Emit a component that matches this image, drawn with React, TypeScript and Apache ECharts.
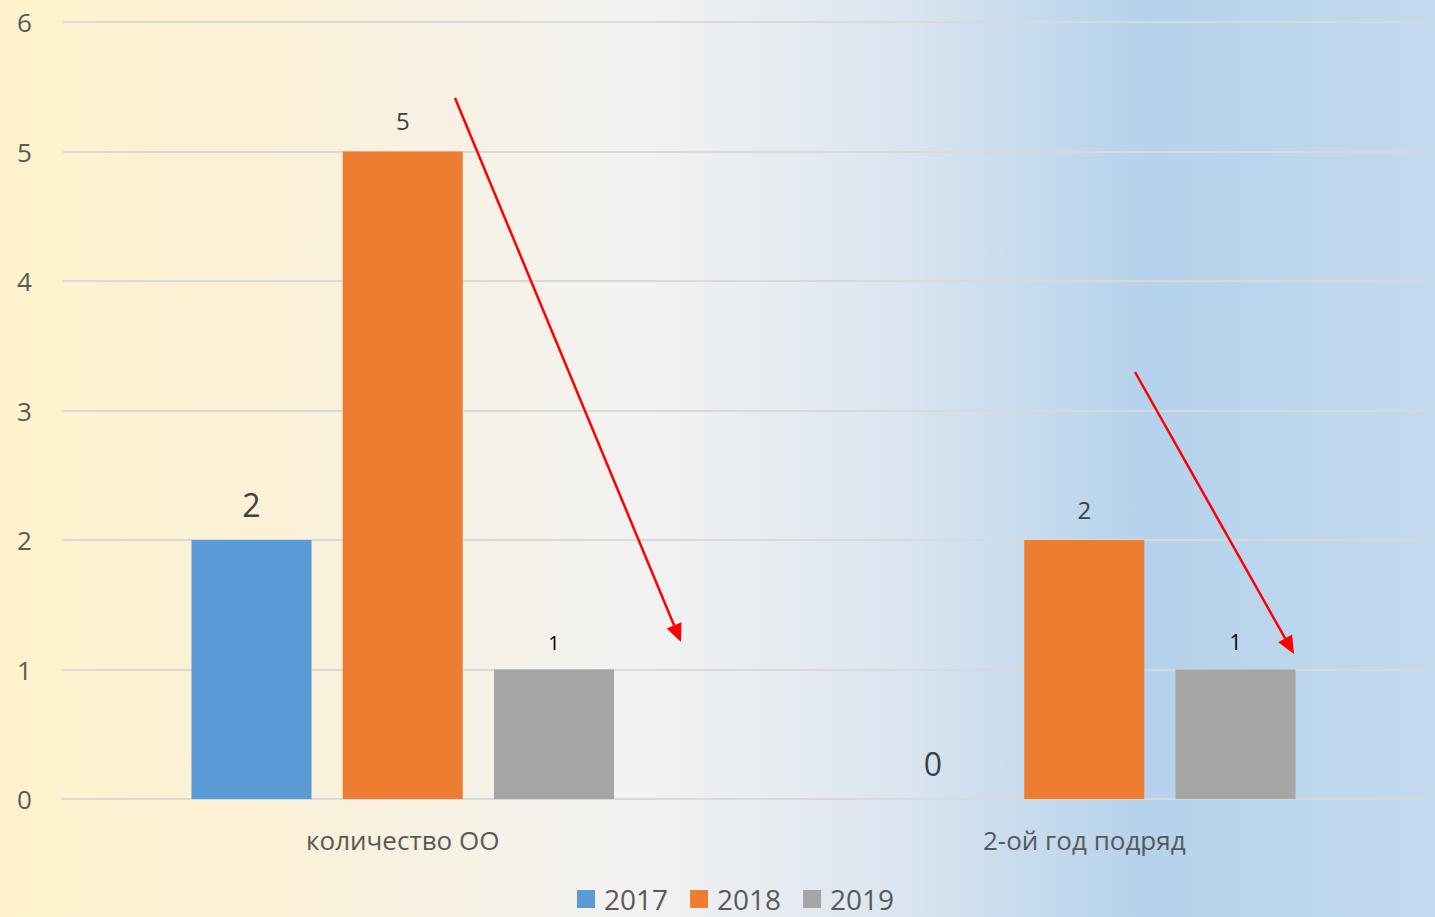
import React, { useEffect, useRef } from "react";
import * as echarts from "echarts";

const categories = ["количество ОО", "2-ой год подряд"];
const seriesNames = ["2017", "2018", "2019"];
const values2017 = [2, 0];
const values2018 = [5, 2];
const values2019 = [1, 1];
const colors = ["#5B9BD5", "#ED7D31", "#A5A5A5"];
// label font sizes per data point (as in the original)
const labelSizes2017 = [32, 32];
const labelSizes2018 = [24, 24];
const labelSizes2019 = [20, 21];
const labelColors2017 = ["#404040", "#404040"];
const labelColors2018 = ["#404040", "#404040"];
const labelColors2019 = ["#000000", "#000000"];
const yTicks = [0, 1, 2, 3, 4, 5, 6];

const FONT = "'Open Sans', 'Noto Sans', sans-serif";

function arrow(x1: number, y1: number, x2: number, y2: number) {
  const dx = x2 - x1;
  const dy = y2 - y1;
  const len = Math.sqrt(dx * dx + dy * dy);
  const ux = dx / len;
  const uy = dy / len;
  const hl = 18;
  const hw = 8;
  const bx = x2 - ux * hl;
  const by = y2 - uy * hl;
  const px = -uy * hw;
  const py = ux * hw;
  return [
    {
      type: "line",
      shape: { x1, y1, x2: bx + ux * 2, y2: by + uy * 2 },
      style: { stroke: "#FF0000", lineWidth: 2.5 },
      z: 100,
    },
    {
      type: "polygon",
      shape: {
        points: [
          [x2, y2],
          [bx + px, by + py],
          [bx - px, by - py],
        ],
      },
      style: { fill: "#FF0000" },
      z: 100,
    },
  ];
}

export default function App() {
  const ref = useRef<HTMLDivElement>(null);
  useEffect(() => {
    if (!ref.current) return;
    const chart = echarts.init(ref.current, undefined, { renderer: "svg" });
    const mk = (vals: number[], sizes: number[], cols: string[]) =>
      vals.map((v, i) => ({
        value: v,
        label: { fontSize: sizes[i], color: cols[i] },
      }));
    const option: any = {
      animation: false,
      backgroundColor: {
        type: "linear",
        x: 0,
        y: 0,
        x2: 1,
        y2: 0,
        colorStops: [
          { offset: 0, color: "#FFF2CC" },
          { offset: 0.2, color: "#FBF1D8" },
          { offset: 0.45, color: "#F2F2F2" },
          { offset: 0.62, color: "#DCE6F0" },
          { offset: 0.8, color: "#B5D2EC" },
          { offset: 1, color: "#C3DAEF" },
        ],
      },
      textStyle: { fontFamily: FONT },
      grid: { left: 62, right: 10, top: 22, bottom: 118, containLabel: false },
      legend: {
        bottom: -1,
        left: 572,
        itemWidth: 18,
        itemHeight: 18,
        itemGap: 22,
        icon: "rect",
        data: seriesNames,
        textStyle: { fontSize: 28, color: "#595959", fontFamily: FONT, padding: [0, 0, 0, 4] },
      },
      xAxis: {
        type: "category",
        data: categories,
        axisLine: { lineStyle: { color: "#D9D9D9", width: 2 } },
        axisTick: { show: false },
        axisLabel: { fontSize: 26, color: "#595959", margin: 28, fontFamily: FONT },
      },
      yAxis: {
        type: "value",
        min: yTicks[0],
        max: yTicks[yTicks.length - 1],
        interval: 1,
        axisLine: { show: false },
        axisTick: { show: false },
        splitLine: { lineStyle: { color: "#D9D9D9", width: 2 } },
        axisLabel: {
          fontSize: 26,
          color: "#595959",
          margin: 0,
          align: "center",
          padding: [0, 75, 0, 0],
          fontFamily: FONT,
        },
      },
      series: [
        {
          name: seriesNames[0],
          type: "bar",
          barGap: "26%",
          barCategoryGap: "38%",
          itemStyle: { color: colors[0] },
          label: { show: true, position: "top", distance: 20, fontFamily: FONT },
          data: mk(values2017, labelSizes2017, labelColors2017),
        },
        {
          name: seriesNames[1],
          type: "bar",
          barGap: "26%",
          barCategoryGap: "38%",
          itemStyle: { color: colors[1] },
          label: { show: true, position: "top", distance: 19, fontFamily: FONT },
          data: mk(values2018, labelSizes2018, labelColors2018),
        },
        {
          name: seriesNames[2],
          type: "bar",
          barGap: "26%",
          barCategoryGap: "38%",
          itemStyle: { color: colors[2] },
          label: { show: true, position: "top", distance: 17, fontFamily: FONT },
          data: mk(values2019, labelSizes2019, labelColors2019),
        },
      ],
      graphic: [...arrow(455, 98, 681, 642), ...arrow(1135, 372, 1294, 654)],
    };
    chart.setOption(option);
    return () => chart.dispose();
  }, []);
  return <div ref={ref} style={{ width: 1435, height: 917, position: "absolute", left: 0, top: 0 }} />;
}
